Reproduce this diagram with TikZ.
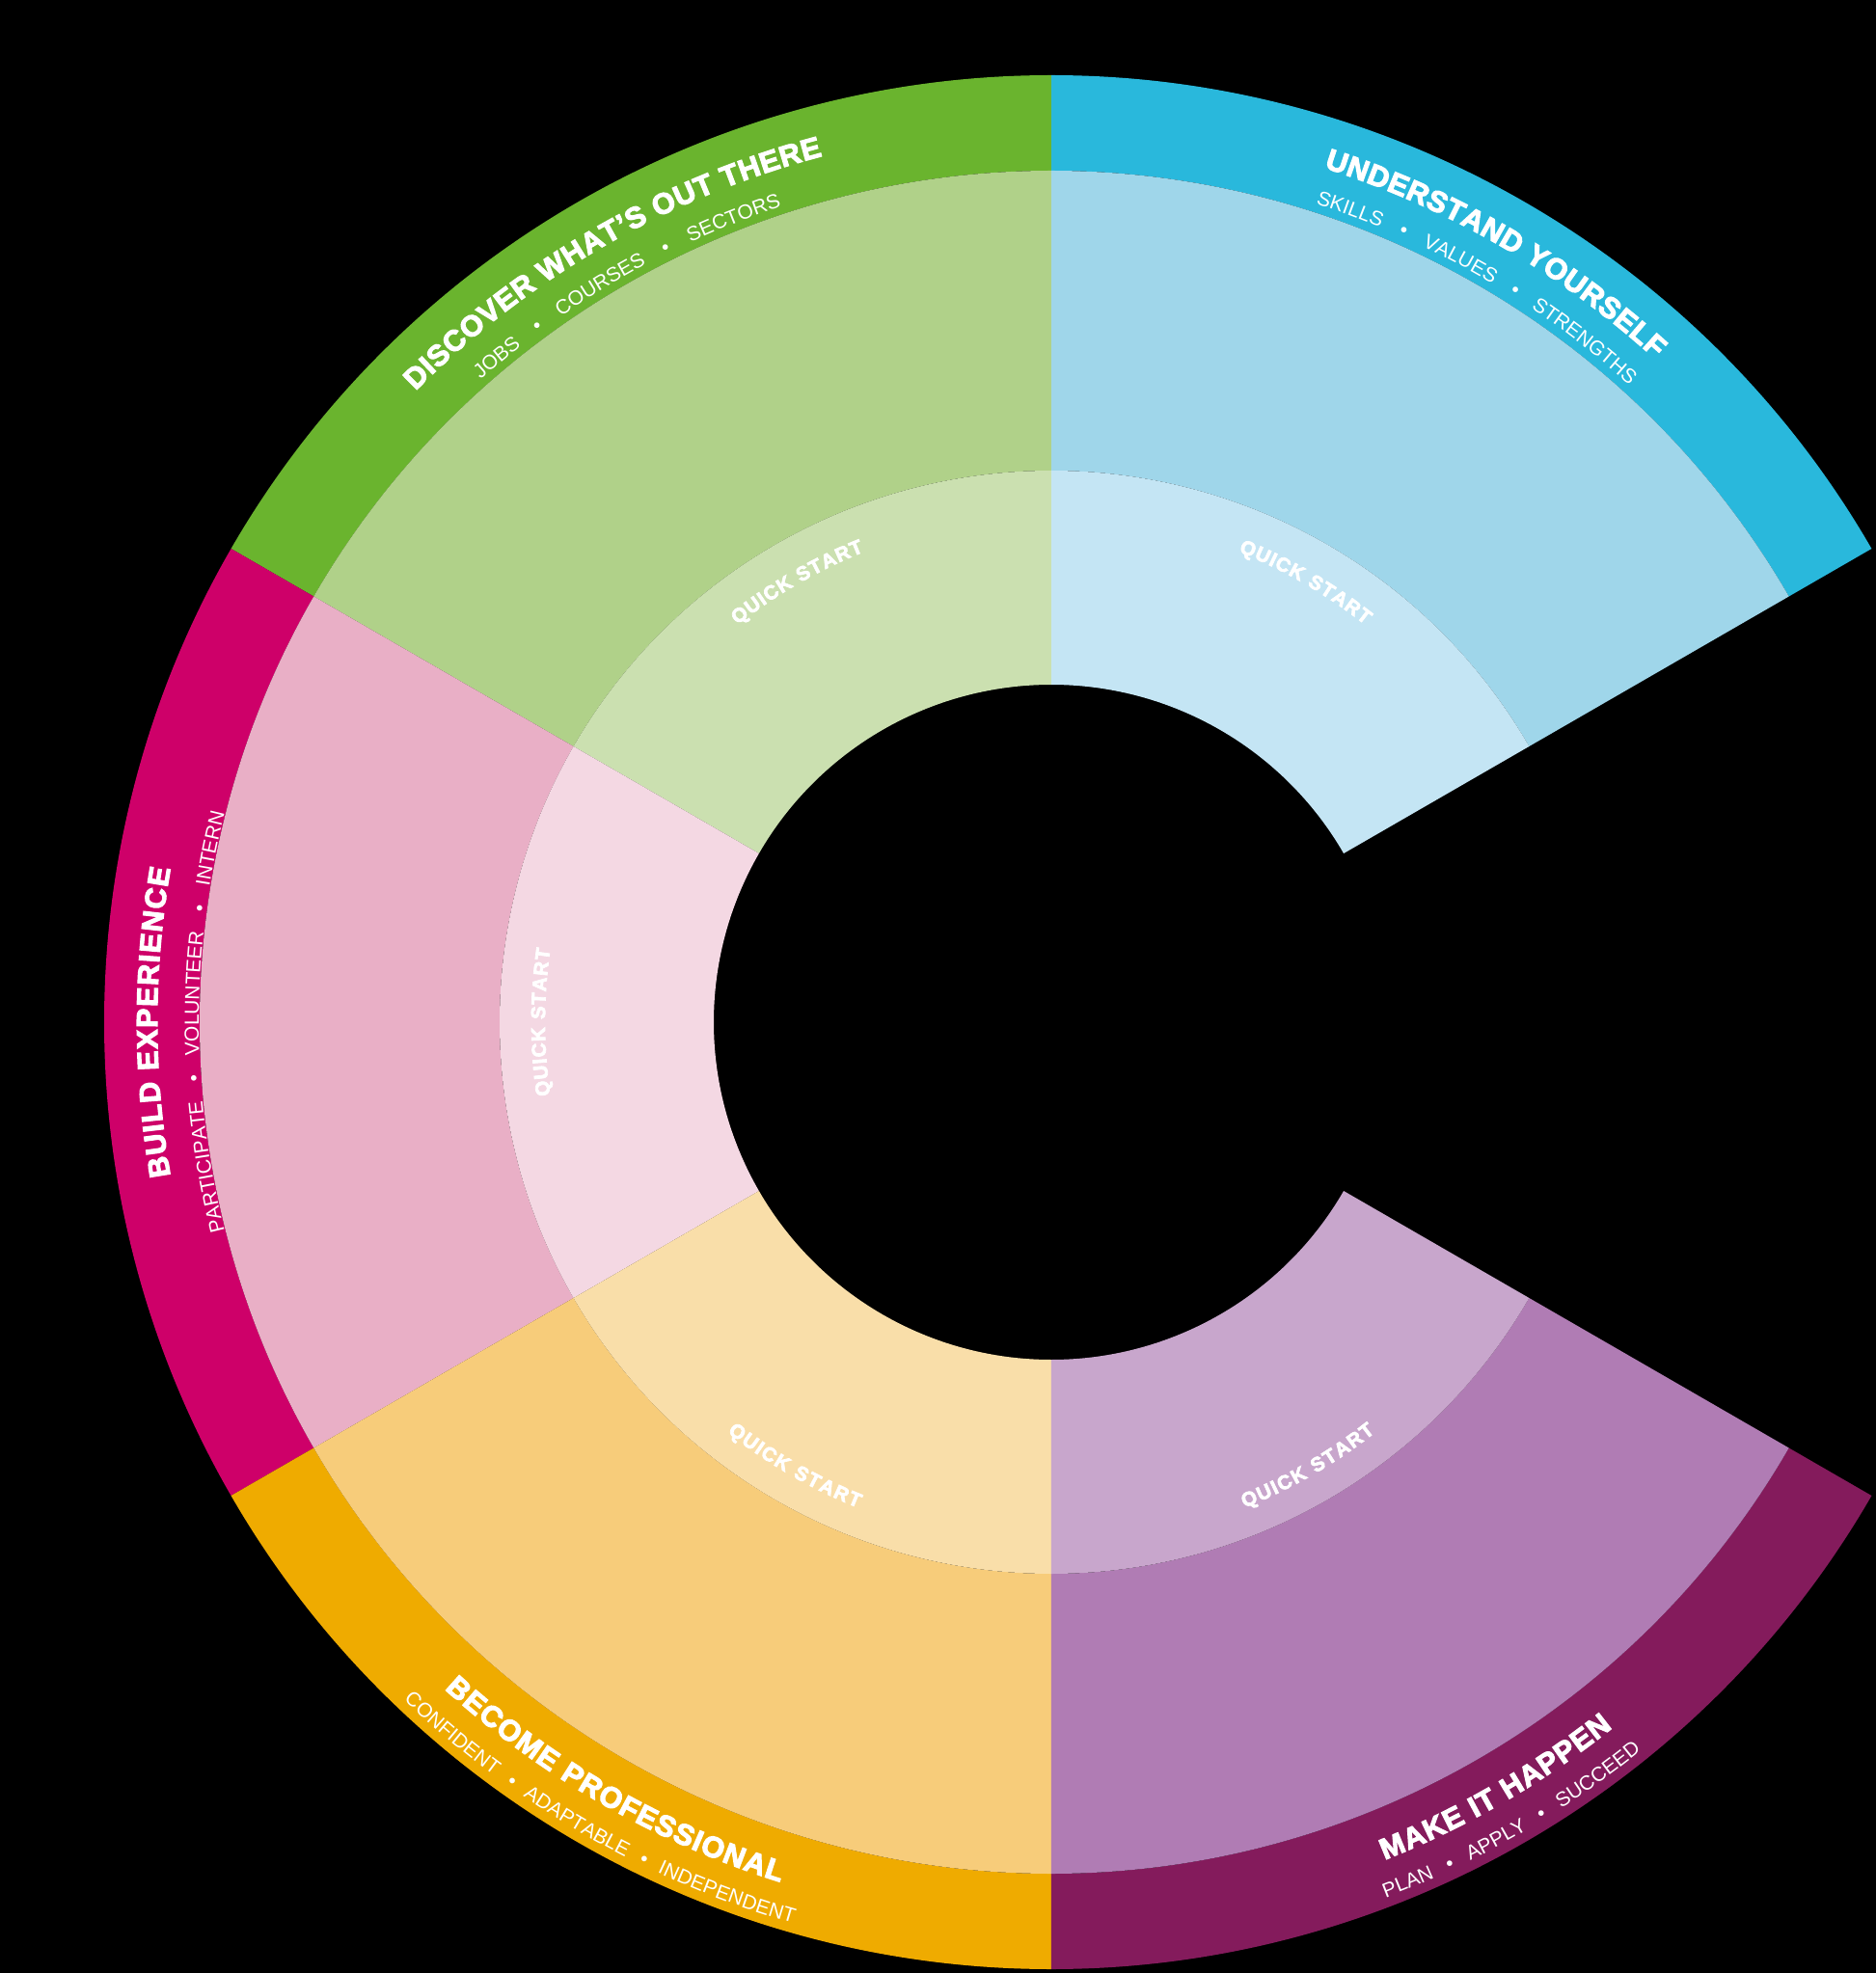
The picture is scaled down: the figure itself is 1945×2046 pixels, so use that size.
\documentclass[tikz,border=0pt]{standalone}
\usepackage{fontspec}
\setmainfont{Liberation Sans}
\newfontfamily\heavyfont{Liberation Sans}[BoldFeatures={FakeBold=3.5}]
\usetikzlibrary{decorations.text}
\definecolor{selfDark}{RGB}{41,184,220}
\definecolor{selfMid}{RGB}{159,214,234}
\definecolor{selfLight}{RGB}{196,229,244}
\definecolor{findDark}{RGB}{106,180,46}
\definecolor{findMid}{RGB}{176,209,137}
\definecolor{findLight}{RGB}{203,224,176}
\definecolor{buildDark}{RGB}{206,0,105}
\definecolor{buildMid}{RGB}{233,175,198}
\definecolor{buildLight}{RGB}{244,216,227}
\definecolor{proDark}{RGB}{239,171,0}
\definecolor{proMid}{RGB}{247,204,122}
\definecolor{proLight}{RGB}{249,222,169}
\definecolor{makeDark}{RGB}{132,27,92}
\definecolor{makeMid}{RGB}{176,124,180}
\definecolor{makeLight}{RGB}{200,166,204}
\newcommand{\ttlfont}{\heavyfont\bfseries\fontsize{30.5}{36}\selectfont}
\newcommand{\subfont}{\fontsize{21}{25}\selectfont}
\newcommand{\qsfont}{\heavyfont\bfseries\fontsize{20.5}{24}\selectfont}
% #1 start angle, #2 end angle, #3 inner radius, #4 outer radius, #5 colour
\newcommand{\band}[5]{\fill[#5] (#1:#4) arc[start angle=#1, end angle=#2, radius=#4] -- (#2:#3) arc[start angle=#2, end angle=#1, radius=#3] -- cycle;}
% #1 from, #2 to, #3 radius, #4 alignment, #5 text
\newcommand{\arclabel}[5]{\path[decorate, decoration={text along path, text color=white, text align=#4, text={#5}}] (#1:#3) arc[start angle=#1, end angle=#2, radius=#3];}

\begin{document}
\begin{tikzpicture}[x=1pt,y=1pt]
  \fill[black] (-1090,-986) rectangle (855,1060);
  \useasboundingbox (-1090,-986) rectangle (855,1060);

  % understand yourself
  \band{30}{90}{883}{982}{selfDark}
  \band{30}{90}{572}{883}{selfMid}
  \band{30}{90}{350}{572}{selfLight}
  % discover
  \band{90}{150}{883}{982}{findDark}
  \band{90}{150}{572}{883}{findMid}
  \band{90}{150}{350}{572}{findLight}
  % build experience
  \band{150}{210}{883}{982}{buildDark}
  \band{150}{210}{572}{883}{buildMid}
  \band{150}{210}{350}{572}{buildLight}
  % become professional
  \band{210}{270}{883}{982}{proDark}
  \band{210}{270}{572}{883}{proMid}
  \band{210}{270}{350}{572}{proLight}
  % make it happen
  \band{270}{330}{883}{982}{makeDark}
  \band{270}{330}{572}{883}{makeMid}
  \band{270}{330}{350}{572}{makeLight}

  % titles
  \arclabel{72.3}{47.7}{930}{fit to path}{|\ttlfont|UNDERSTAND YOURSELF}
  \arclabel{72.1}{47.8}{892}{fit to path stretching spaces}{|\subfont|SKILLS • VALUES • STRENGTHS}
  \arclabel{135.2}{104.8}{929}{fit to path}{|\ttlfont|DISCOVER WHAT’S OUT THERE}
  \arclabel{131.6}{108.3}{891}{fit to path stretching spaces}{|\subfont|JOBS • COURSES • SECTORS}
  \arclabel{189.9}{170.1}{927}{fit to path}{|\ttlfont|BUILD EXPERIENCE}
  \arclabel{194.2}{165.8}{884}{fit to path stretching spaces}{|\subfont|PARTICIPATE • VOLUNTEER • INTERN}
  \arclabel{227.7}{252.5}{935}{fit to path}{|\ttlfont|BECOME PROFESSIONAL}
  \arclabel{226.3}{254}{972}{fit to path stretching spaces}{|\subfont|CONFIDENT • ADAPTABLE • INDEPENDENT}
  \arclabel{291.7}{308.5}{935}{fit to path}{|\ttlfont|MAKE IT HAPPEN}
  \arclabel{290.9}{309}{972}{fit to path stretching spaces}{|\subfont|PLAN • APPLY • SUCCEED}

  % quick start
  \arclabel{68.3}{51.7}{525}{fit to path}{|\qsfont|QUICK START}
  \arclabel{128.3}{111.7}{525}{fit to path}{|\qsfont|QUICK START}
  \arclabel{188.3}{171.7}{525}{fit to path}{|\qsfont|QUICK START}
  \arclabel{231.7}{248.3}{542}{fit to path}{|\qsfont|QUICK START}
  \arclabel{291.7}{308.3}{542}{fit to path}{|\qsfont|QUICK START}
\end{tikzpicture}
\end{document}
